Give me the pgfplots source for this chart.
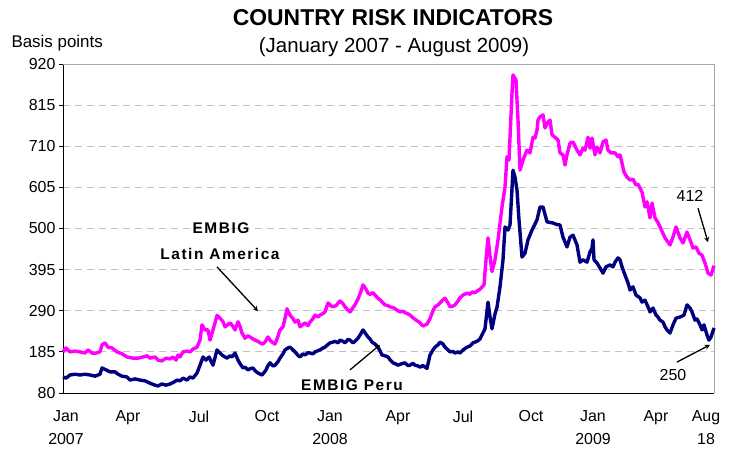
\documentclass[border=0pt]{standalone}
\usepackage{pgfplots}
\pgfplotsset{compat=1.18}
\usepackage{fontspec}
\setmainfont{Liberation Sans}
\newfontfamily\spaced[LetterSpace=10]{Liberation Sans}
\definecolor{lat}{RGB}{255,0,255}
\definecolor{peru}{RGB}{0,0,128}
\definecolor{gridc}{RGB}{192,192,192}
\begin{document}
\begin{tikzpicture}
\useasboundingbox (0bp,0bp) rectangle (732bp,450bp);
\begin{axis}[
  at={(63bp,57bp)}, anchor=south west,
  scale only axis, width=651bp, height=329bp,
  xmin=63, xmax=714, ymin=80, ymax=920,
  ytick={80,185,...,920},
  xtick={66,128,199,267,330,398,463,531,593,656,706},
  xticklabels={{Jan\\2007},Apr,Jul,Oct,{Jan\\2008},Apr,Jul,Oct,{Jan\\2009},Apr,{Aug\\18}},
  x tick label style={align=center, font=\fontsize{16}{23}\selectfont, yshift=-10bp},
  y tick label style={font=\fontsize{16}{18}\selectfont},
  xtick style={draw=none},
  ytick style={black, line width=0.8bp},
  tick align=outside, major tick length=4bp,
  axis x line*=bottom, axis y line*=left,
  axis line style={-, black, line width=0.9bp},
  ymajorgrids,
  grid style={gridc, line width=0.8bp, dash pattern=on 7bp off 5bp},
  /pgf/number format/assume math mode=true,
  clip=false,
]
\draw[gray!70, line width=0.9bp] (rel axis cs:0,1) -- (rel axis cs:1,1) -- (rel axis cs:1,0);
\addplot[lat, line width=3.4bp, line join=round] coordinates {
(63,185)(66,195)(70,185)(75,187)(80,185)(85,182)(88,190)(92,182)(96,182)(100,185)
(102,203)(105,208)(108,197)(112,195)(117,185)(122,180)(127,172)(133,169)(138,169)(143,172)
(147,175)(150,169)(155,172)(158,164)(162,162)(166,169)(170,167)(173,172)(176,164)(178,177)
(180,172)(183,185)(187,187)(190,185)(193,192)(197,197)(200,215)(202,254)(205,241)(208,241)
(210,215)(213,241)(217,278)(220,271)(223,262)(225,249)(228,255)(230,259)(233,250)(235,241)
(238,262)(240,250)(242,233)(245,220)(248,226)(250,223)(253,218)(255,215)(258,212)(260,208)
(263,205)(265,210)(268,223)(270,215)(272,210)(275,205)(278,225)(280,241)(283,249)(285,270)
(287,295)(290,279)(293,270)(295,261)(298,266)(300,249)(303,255)(305,259)(308,252)(310,261)
(313,270)(315,279)(318,274)(320,279)(323,283)(325,287)(328,310)(332,300)(336,303)(340,315)
(343,308)(345,300)(348,292)(350,287)(353,298)(355,305)(358,320)(361,340)(363,356)(366,345)
(368,335)(370,332)(373,336)(375,330)(378,322)(380,318)(383,310)(385,305)(388,303)(390,300)
(393,298)(395,295)(398,290)(400,287)(403,289)(405,285)(408,282)(410,279)(413,272)(415,268)
(418,263)(420,259)(423,251)(427,256)(430,270)(433,290)(435,300)(438,305)(440,310)(443,318)
(445,322)(448,310)(450,300)(453,302)(455,305)(458,315)(460,323)(463,330)(467,335)(470,332)
(472,338)(475,336)(477,340)(480,345)(484,356)(486,420)(488,476)(490,430)(492,390)(495,420)
(498,471)(502,555)(505,606)(507,683)(509,675)(512,846)(513,892)(516,879)(518,777)(520,649)
(523,675)(527,700)(530,693)(533,733)(535,731)(537,751)(538,777)(540,785)(543,790)(545,757)
(548,772)(550,777)(552,739)(555,733)(558,726)(560,693)(563,688)(565,662)(567,688)(570,718)
(573,721)(577,700)(580,688)(583,705)(585,700)(588,733)(590,705)(592,731)(595,688)(597,708)
(600,693)(603,721)(606,726)(608,700)(611,693)(615,693)(618,683)(620,688)(622,667)(624,644)
(627,631)(630,624)(633,626)(636,611)(638,613)(642,593)(645,555)(647,568)(650,527)(652,565)
(655,527)(658,515)(660,504)(665,476)(670,458)(673,478)(676,504)(680,476)(683,463)(687,491)
(690,471)(693,450)(696,453)(699,437)(702,432)(705,412)(708,386)(711,381)(714,405)
};
\addplot[peru, line width=3.4bp, line join=round] coordinates {
(63,121)(66,118)(70,126)(75,128)(80,126)(85,128)(90,126)(95,123)(100,128)(102,144)
(106,139)(110,134)(115,134)(118,128)(122,123)(127,121)(130,113)(135,116)(140,113)(145,111)
(150,105)(155,100)(158,98)(162,103)(166,100)(170,103)(174,108)(177,113)(180,111)(183,118)
(187,113)(190,121)(193,118)(197,131)(200,151)(203,172)(206,164)(209,172)(213,151)(217,190)
(220,182)(222,177)(225,172)(227,169)(230,175)(232,172)(235,182)(238,164)(240,155)(243,144)
(245,146)(248,139)(250,142)(253,144)(255,137)(258,131)(262,126)(264,132)(266,139)(268,150)
(270,157)(273,149)(275,151)(278,160)(280,169)(283,180)(285,190)(288,195)(290,197)(293,190)
(295,185)(298,176)(300,172)(303,180)(305,177)(308,183)(310,182)(313,180)(315,185)(318,188)
(320,190)(323,195)(325,197)(328,204)(330,208)(333,210)(335,212)(338,208)(340,215)(343,212)
(345,208)(348,217)(350,215)(353,208)(355,212)(358,220)(361,232)(363,241)(366,230)(368,223)
(370,218)(372,210)(375,205)(378,197)(380,188)(382,177)(385,175)(388,172)(390,165)(393,157)
(395,155)(398,151)(402,155)(405,157)(408,150)(410,151)(413,156)(415,151)(418,149)(420,146)
(423,150)(425,146)(427,143)(430,177)(433,190)(435,197)(438,203)(440,210)(443,205)(445,197)
(448,190)(450,185)(453,186)(455,182)(458,185)(460,182)(463,190)(467,197)(470,200)(473,208)
(477,212)(480,218)(485,244)(488,312)(490,274)(492,244)(495,282)(497,299)(500,351)(503,420)
(505,504)(508,496)(510,509)(513,649)(515,631)(517,598)(519,522)(522,427)(525,437)(528,471)
(532,496)(537,522)(540,555)(543,555)(547,517)(553,514)(557,510)(560,509)(563,478)(567,453)
(570,478)(573,483)(577,458)(580,414)(583,420)(587,414)(590,440)(592,450)(593,471)(594,420)
(597,412)(600,399)(603,386)(606,402)(610,407)(613,402)(615,414)(618,425)(620,420)(622,402)
(625,381)(628,361)(630,343)(633,351)(636,330)(640,323)(642,312)(645,317)(648,300)(650,287)
(653,297)(656,279)(658,274)(660,266)(663,261)(665,249)(667,241)(670,233)(673,254)(676,271)
(680,274)(684,279)(687,305)(690,297)(692,287)(695,266)(697,269)(700,254)(702,241)(704,254)
(707,228)(709,215)(711,223)(714,246)
};
\node[font=\spaced\bfseries\fontsize{15.5}{18}\selectfont] at (axis cs:221,501) {EMBIG};
\node[font=\spaced\bfseries\fontsize{15.5}{18}\selectfont] at (axis cs:220,435) {Latin America};
\node[font=\spaced\bfseries\fontsize{15.5}{18}\selectfont] at (axis cs:352,100) {EMBIG Peru};
\node[font=\fontsize{16}{18}\selectfont] at (axis cs:690,583) {412};
\node[font=\fontsize{16}{18}\selectfont] at (axis cs:673,126) {250};
\draw[-stealth, line width=1.3bp] (axis cs:217,402) -- (axis cs:258,289);
\draw[-stealth, line width=1.3bp] (axis cs:350,139) -- (axis cs:380,203);
\draw[-stealth, line width=1.3bp] (axis cs:698,552) -- (axis cs:708,465);
\draw[-stealth, line width=1.3bp] (axis cs:677,159) -- (axis cs:710,203);
\end{axis}
\node[font=\bfseries\fontsize{23}{26}\selectfont] at (393bp,432bp) {COUNTRY RISK INDICATORS};
\node[font=\fontsize{20.5}{24}\selectfont] at (394bp,403bp) {(January 2007 - August 2009)};
\node[font=\fontsize{17}{20}\selectfont, anchor=west] at (8bp,407bp) {Basis points};
\end{tikzpicture}
\end{document}
